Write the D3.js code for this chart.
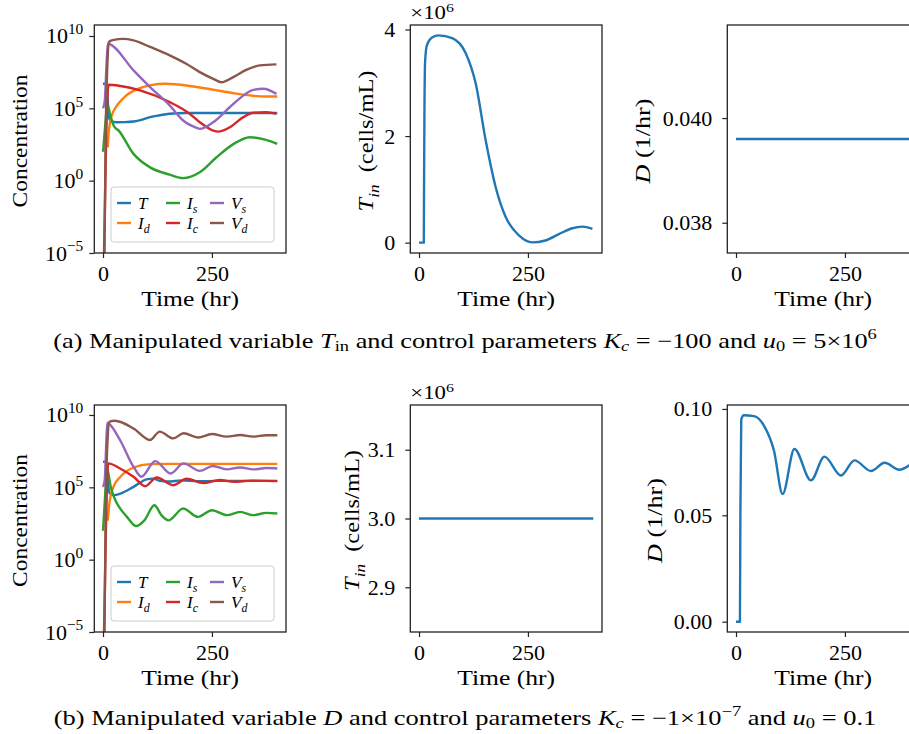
<!DOCTYPE html>
<html>
<head>
<meta charset="utf-8">
<script src="https://cdn.jsdelivr.net/npm/d3@7"></script>
<style>
  body { margin: 0; background: #fff; }
  svg { display: block; }
  text { font-family: "Liberation Serif", "Times New Roman", serif; fill: #000; }
</style>
</head>
<body>
<svg id="fig" width="909" height="734"></svg>
<script>
// ---- data: [time (hr), value] ----
// (a) manipulated variable T_in, Kc = -100
const aT  = [[0,5.0e6],[8,5.0e6],[11,3.2e5],[14,2.0e4],[20,1.26e4],[30,1.1e4],[50,1.12e4],[70,1.23e4],[90,1.66e4],[108,2.45e4],[130,3.3e4],[153,4.2e4],[190,4.7e4],[250,4.8e4],[300,4.7e4],[400,4.7e4]];
const aId = [[11,2e2],[13,2e3],[16,1e4],[20,3.2e4],[30,1.26e5],[50,6.3e5],[80,2.2e6],[110,4.0e6],[143,5.0e6],[200,3.5e6],[250,2.0e6],[300,1.1e6],[340,7.6e5],[370,6.6e5],[400,6.6e5]];
const aIs = [[0,1e2],[5,6.3e3],[9,1e5],[12,1.26e5],[16,4e4],[25,6e3],[36,2.9e3],[70,71],[108,8.3],[153,2.6],[184,1.5],[222,3.8],[260,40],[300,350],[337,1e3],[372,690],[400,350]];
const aIc = [[0,1e-8],[3,1e-4],[6,1e1],[9,1e5],[13,4.3e6],[40,3.5e6],[85,1.74e6],[153,2.7e5],[199,4.2e4],[222,1.1e4],[253,2.9e3],[264,2.45e3],[291,4.9e3],[322,2.45e4],[345,4.9e4],[375,5.4e4],[398,4.2e4]];
const aVs = [[0,1e5],[4,3.2e5],[8,1e8],[11,3e9],[15,2.8e9],[70,4.2e7],[108,2.95e6],[153,1.6e5],[184,1.45e4],[215,4.5e3],[222,3.8e3],[253,1.1e4],[299,2.0e5],[345,1.9e6],[368,2.24e6],[398,1.0e6]];
const aVd = [[0,1e-8],[3,1e-6],[6,1e3],[10,1e8],[14,4e9],[25,5.4e9],[45,6.3e9],[70,5e9],[108,1.74e9],[153,4.6e8],[191,1.2e8],[222,3.2e7],[253,1.1e7],[272,6.3e6],[299,1.45e7],[330,4.7e7],[360,9.3e7],[398,1.1e8]];
const aTin = [[0,0],[11,0],[11.5,1.0e6],[12.5,2.5e6],[14,3.4e6],[18,3.7e6],[30,3.85e6],[45,3.89e6],[76,3.84e6],[107,3.56e6],[130,2.99e6],[153,1.92e6],[176,1.04e6],[199,0.48e6],[230,0.13e6],[260,0.004e6],[290,0.04e6],[321,0.16e6],[352,0.27e6],[375,0.3e6],[398,0.26e6]];
const aD = [[0,0.0396],[400,0.0396]];

// (b) manipulated variable D, Kc = -1e-7
const bT  = [[0,5.9e6],[8,5.9e6],[11,3.2e5],[15,4e4],[25,2.9e4],[40,3.7e4],[70,1.07e5],[100,3.55e5],[115,4e5],[130,2.8e5],[150,2.5e5],[180,3.0e5],[220,2.6e5],[260,2.8e5],[400,2.8e5]];
const bId = [[11,5e2],[15,1e4],[25,1.26e5],[39,5e5],[70,2.34e6],[108,4e6],[150,4.2e6],[400,4.2e6]];
const bIs = [[0,1e2],[5,3.2e4],[9,2e6],[12,1e6],[18,1e5],[25,2.2e4],[40,3.2e3],[55,9.1e2],[76,2.1e2],[95,5.2e2],[118,5.8e3],[134,1.2e3],[150,5.2e2],[184,3.4e3],[218,9.1e2],[250,2.6e3],[284,1.2e3],[315,2e3],[345,1.2e3],[375,1.7e3],[400,1.55e3]];
const bIc = [[0,1e-8],[3,1e-4],[6,1e1],[9,1e5],[12,4.5e6],[39,2e6],[70,5.4e5],[97,1.2e5],[123,4.8e5],[161,1.4e5],[192,3.9e5],[230,2e5],[268,3.2e5],[300,2.4e5],[340,2.9e5],[400,2.7e5]];
const bVs = [[0,1.07e5],[4,3.2e5],[8,3.2e8],[10,2.95e9],[14,2.5e9],[39,1.86e8],[70,2.63e6],[88,5.4e5],[120,6.5e6],[155,9.1e5],[185,4.5e6],[222,1.38e6],[252,2.95e6],[284,1.74e6],[315,2.34e6],[345,1.74e6],[375,2.14e6],[400,2.0e6]];
const bVd = [[0,1e-8],[3,1e-6],[6,1e3],[10,1e8],[15,3.5e9],[27,4e9],[70,1.17e9],[108,1.86e8],[130,7.1e8],[161,2.4e8],[185,5.4e8],[218,2.8e8],[250,4.8e8],[284,3.2e8],[315,4.1e8],[345,3.2e8],[375,4e8],[400,4e8]];
const bTin = [[0,3.0e6],[400,3.0e6]];
const bD = [[0,0],[9,0],[10,0.05],[12,0.095],[18,0.097],[41,0.0966],[64,0.0922],[87,0.0805],[107,0.060],[134,0.0812],[172,0.0664],[203,0.0776],[241,0.0687],[272,0.0758],[310,0.0708],[341,0.0747],[375,0.0714],[400,0.0738]];

const seriesNames = [["T", null], ["I", "d"], ["I", "s"], ["I", "c"], ["V", "s"], ["V", "d"]];
const seriesColors = ["#1f77b4", "#ff7f0e", "#2ca02c", "#d62728", "#9467bd", "#8c564b"];
const timeTicks = [0, 250];
const logTicks = [1e-5, 1, 1e5, 1e10];
const aTinTicks = [0, 2e6, 4e6];
const aDTicks = [0.038, 0.040];
const bTinTicks = [2.9e6, 3.0e6, 3.1e6];
const bDTicks = [0, 0.05, 0.10];

const svg = d3.select("#fig");
const FS = 22;
const minus = s => s.replace("-", "\u2212");

// text made of runs: {t, it, sub, sup}
function rich(sel, runs, size, subK = 0.25, supK = 0.42) {
  let shift = 0;
  runs.forEach(r => {
    const ts = sel.append("tspan").text(r.t);
    const target = r.sub ? size * subK : r.sup ? -size * supK : 0;
    if (target !== shift) ts.attr("dy", target - shift);
    shift = target;
    if (r.sub || r.sup) ts.attr("font-size", size * 0.7);
    if (r.it) ts.attr("font-style", "italic");
  });
  return sel;
}

// stretch a text along its baseline to the width it has in the figure
function fit(sel, base, width) {
  const w = sel.node().getBBox().width;
  sel.attr("transform", `${base} scale(${width / w},1)`);
}

function panel(box, data, colors, y, opts) {
  const x = d3.scaleLinear().domain([-20, 420]).range([box.l, box.r]);
  y.range([box.b, box.t]);
  const id = "c" + Math.round(box.l) + "_" + box.t;
  svg.append("clipPath").attr("id", id).append("rect")
    .attr("x", box.l).attr("y", box.t).attr("width", box.r - box.l).attr("height", box.b - box.t);

  const line = d3.line().x(d => x(d[0])).y(d => y(d[1])).curve(d3.curveMonotoneX);
  const g = svg.append("g").attr("clip-path", `url(#${id})`);
  data.forEach((s, i) => {
    g.append("path").attr("d", line(s)).attr("fill", "none")
      .attr("stroke", colors[i]).attr("stroke-width", 2.4).attr("stroke-linejoin", "round");
  });

  // x axis
  const xa = svg.append("g").attr("transform", `translate(0,${box.b})`)
    .call(d3.axisBottom(x).tickValues(timeTicks).tickSize(5));
  xa.select(".domain").remove();
  xa.selectAll(".tick line").attr("stroke", "#222").attr("stroke-width", 1.2);
  xa.selectAll(".tick text").attr("y", 28).attr("dy", null)
    .attr("font-size", FS).attr("font-family", null).attr("fill", "#000");

  // y axis
  const ya = svg.append("g").attr("transform", `translate(${box.l},0)`)
    .call(d3.axisLeft(y).tickValues(opts.ticks).tickSize(5));
  ya.select(".domain").remove();
  ya.selectAll(".tick line").attr("stroke", "#222").attr("stroke-width", 1.2);
  ya.selectAll(".tick text").each(function (d) {
    const t = d3.select(this).text(null).attr("font-size", FS).attr("font-family", null)
      .attr("fill", "#000").attr("dy", 7).attr("x", opts.log ? -11 : -15);
    rich(t, opts.label(d), FS);
  });

  svg.append("rect").attr("x", box.l).attr("y", box.t)
    .attr("width", box.r - box.l).attr("height", box.b - box.t)
    .attr("fill", "none").attr("stroke", "#222").attr("stroke-width", 1.3);

  const xl = svg.append("text").attr("text-anchor", "middle").attr("font-size", FS).text("Time (hr)");
  fit(xl, `translate(${(box.l + box.r) / 2},${box.b + 53})`, 98);

  const yl = rich(svg.append("text").attr("text-anchor", "middle").attr("font-size", FS), opts.ylabel, FS);
  fit(yl, `translate(${opts.ylabelX},${(box.t + box.b) / 2 + 2}) rotate(-90)`, opts.ylabelW);

  if (opts.offset) {
    const off = rich(svg.append("text").attr("font-size", 19),
      [{t: "\u00d710"}, {t: "6", sup: true}], 19, 0.25, 0.36);
    fit(off, `translate(${box.l},${box.t - 6.5})`, 44);
  }
  return x;
}

function legend(box) {
  const lg = svg.append("g").attr("transform", `translate(111,${box.b - 66})`);
  lg.append("rect").attr("width", 163).attr("height", 55).attr("rx", 3)
    .attr("fill", "#fff").attr("fill-opacity", 0.8).attr("stroke", "#ccc").attr("stroke-width", 1);
  const colX = [6, 55, 99];
  const rowY = [16, 36];
  seriesNames.forEach((n, i) => {
    const cx = colX[Math.floor(i / 2)], cy = rowY[i % 2];
    lg.append("line").attr("x1", cx).attr("x2", cx + 14).attr("y1", cy).attr("y2", cy)
      .attr("stroke", seriesColors[i]).attr("stroke-width", 2.4);
    const runs = [{t: n[0], it: true}];
    if (n[1]) runs.push({t: n[1], it: true, sub: true});
    rich(lg.append("text").attr("x", cx + 21).attr("y", cy + 6).attr("font-size", 17), runs, 17);
  });
}

const logLabel = d => [{t: "10"}, {t: minus(String(Math.round(Math.log10(d)))), sup: true}];
const concLabel = [{t: "Concentration"}];
const tinLabel = [{t: "T", it: true}, {t: "in", it: true, sub: true}, {t: "\u2002(cells/mL)"}];
const dLabel = [{t: "D", it: true}, {t: " (1/hr)"}];

// padded linear domain like matplotlib autoscale
function padded(data) {
  const ext = d3.extent(data, d => d[1]);
  if (ext[0] === ext[1]) return [ext[0] * 0.945, ext[0] * 1.055];
  const p = (ext[1] - ext[0]) * 0.05;
  return [ext[0] - p, ext[1] + p];
}

const rows = [{t: 25, b: 253, logTop: 10 ** 10.76}, {t: 405, b: 632, logTop: 10 ** 10.69}];
const cols = [{l: 94.3, r: 286}, {l: 410.3, r: 602}, {l: 727.3, r: 919}];

[[aT, aId, aIs, aIc, aVs, aVd], [bT, bId, bIs, bIc, bVs, bVd]].forEach((set, ri) => {
  const box = {l: cols[0].l, r: cols[0].r, t: rows[ri].t, b: rows[ri].b};
  panel(box, set, seriesColors, d3.scaleLog().domain([1e-5, rows[ri].logTop]),
    {ticks: logTicks, log: true, label: logLabel, ylabel: concLabel, ylabelX: 26.5, ylabelW: 133});
  legend(box);
});

// row (a)
panel({l: cols[1].l, r: cols[1].r, t: rows[0].t, b: rows[0].b}, [aTin], [seriesColors[0]],
  d3.scaleLinear().domain(padded(aTin)),
  {ticks: aTinTicks, label: d => [{t: d3.format("d")(d / 1e6)}], ylabel: tinLabel, ylabelX: 373, ylabelW: 141, offset: true});
panel({l: cols[2].l, r: cols[2].r, t: rows[0].t, b: rows[0].b}, [aD], [seriesColors[0]],
  d3.scaleLinear().domain(padded(aD)),
  {ticks: aDTicks, label: d => [{t: d3.format(".3f")(d)}], ylabel: dLabel, ylabelX: 650, ylabelW: 86});

// row (b)
panel({l: cols[1].l, r: cols[1].r, t: rows[1].t, b: rows[1].b}, [bTin], [seriesColors[0]],
  d3.scaleLinear().domain(padded(bTin)),
  {ticks: bTinTicks, label: d => [{t: d3.format(".1f")(d / 1e6)}], ylabel: tinLabel, ylabelX: 359, ylabelW: 141, offset: true});
panel({l: cols[2].l, r: cols[2].r, t: rows[1].t, b: rows[1].b}, [bD], [seriesColors[0]],
  d3.scaleLinear().domain(padded(bD)),
  {ticks: bDTicks, label: d => [{t: d3.format(".2f")(d)}], ylabel: dLabel, ylabelX: 662, ylabelW: 86});

// captions
const capA = rich(svg.append("text").attr("text-anchor", "middle").attr("font-size", 21), [
  {t: "(a) Manipulated variable "}, {t: "T", it: true}, {t: "in", sub: true},
  {t: " and control parameters "}, {t: "K", it: true}, {t: "c", it: true, sub: true},
  {t: " = \u2212100 and "}, {t: "u", it: true}, {t: "0", sub: true}, {t: " = 5\u00d710"}, {t: "6", sup: true}
], 21, 0.15, 0.42);
fit(capA, "translate(465,348)", 824);
const capB = rich(svg.append("text").attr("text-anchor", "middle").attr("font-size", 21), [
  {t: "(b) Manipulated variable "}, {t: "D", it: true},
  {t: " and control parameters "}, {t: "K", it: true}, {t: "c", it: true, sub: true},
  {t: " = \u22121\u00d710"}, {t: "\u22127", sup: true}, {t: " and "}, {t: "u", it: true}, {t: "0", sub: true}, {t: " = 0.1"}
], 21, 0.15, 0.42);
fit(capB, "translate(465,725)", 823);
</script>
</body>
</html>
